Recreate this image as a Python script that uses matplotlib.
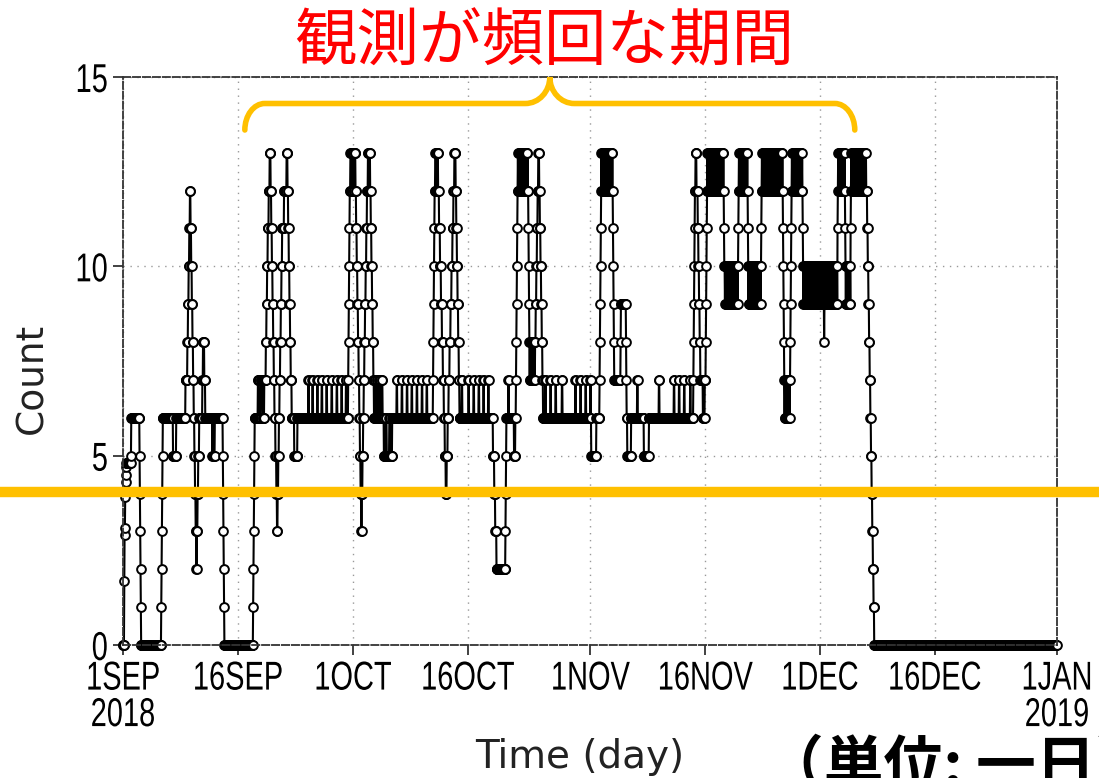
import numpy as np
import matplotlib
matplotlib.use("Agg")
from matplotlib import pyplot as plt
import matplotlib.dates as mdates
from matplotlib.path import Path
from matplotlib.patches import PathPatch
from matplotlib.patheffects import AbstractPathEffect
from matplotlib.transforms import Affine2D

# hourly observation counts, 1 Sep 2018 00:00 -> 31 Dec 2018 23:00
n_hours = 122 * 24
start = np.datetime64("2018-09-01T00:00")

# each window: (hour it starts, hourly values); "v*n" = v for n hours,
# "a~b*n" = n hours flipping between a and b. last value holds until next window
windows = [
    (0, "0"),
    (4, "1.7 2.9 3.1 3.9 4.3 4.5 4.7 4.8"),
    (25, "5 6"),
    (52, "5 4 3 2 1 0"),
    (120, "1 2 3 4 5 6"),
    (157, "5"),
    (167, "6"),
    (196, "7*6 8*2 9*2 10*2 11*2 12*2 11*2 10*2 9*2 8*2 7*2 6*2 5*2 4*2 3*2 2*2 "
          "3*2 4*2 5*3 6*10 7*2 8*4 7*3 6"),
    (280, "5*2 6*3 5*3 6"),
    (313, "5 4 3 2 1 0"),
    (408, "1 2 3 4 5 6*10 7*4 6*6 7*6 6*4 7*5 8*2 9*2 10*2 11*3 12*3 13*3 12*2 11*2 "
          "10*2 9*2 8*2 7*2 6*3 5*3 4*2 3*2 4*2 5*2 6*2 7*2 8*2 9*2 10*2 11*6 12*8 "
          "13*3 12*2 11*2 10*2 9*2 8*2 7*3 6*8 5*10 6"),
    (581, "7*2 6"), (594, "7*2 6"), (609, "7*2 6"), (623, "7*2 6"), (638, "7*2 6"),
    (654, "7*2 6"), (670, "7*2 6"), (685, "7*2 6"), (699, "7*2 6"),
    (706, "7 8 9 10 11 12*2 13*3 12*3 13*4 12*3 13*3 12*2 11*2 10*2 9*2 8*2 7*2 "
          "6*2 5*2 4*2 3*2 4*2 5*2 6*2 7*2 8*2 9*2 10*2 11*2 12*3 13*3 12*2 13*2 "
          "12*2 11*2 10*2 9*2 8*2 7*2 6"),
    (790, "7*2 6*4 7*2 6*5 7*3 6*6 7*2 6*4"),
    (818, "5*6 6*3 5*8 6*3 5*6 6"),
    (858, "7*2 6"), (874, "7*2 6"), (890, "7*2 6"), (905, "7*2 6"), (921, "7*2 6"),
    (937, "7*2 6"), (952, "7*2 6"),
    (972, "7 8 9 10 11 12*2 13*3 12*3 13*3 12*3 11*3 10*3 9*3 8*3 7*3 6*3 5*3 4*3 "
          "5*3 6*3 7*3 8*3 9*3 10*3 11*3 12*3 13*4 12*2 11*2 10*2 9*2 8*2 7*2 6"),
    (1062, "7*2 6"), (1083, "7*2 6"), (1099, "7*2 6"), (1115, "7*2 6"),
    (1130, "7*2 6"), (1145, "7*2 6"),
    (1160, "5*4 4*3 3*4 2*28 3 4 5 6*6 7*2 6*16 5*4 6*2"),
    (1232, "7 8 9 10 11 12 13~12*32 12 11 10 9 8~7*18 8*2 9*2 10*2 11*2 12*2 13*3 "
           "12*2 11*2 10*2 9*2 8*2 7*2 6"),
    (1324, "7*2 6"), (1340, "7*2 6"), (1356, "7*2 6"), (1376, "7*2 6"),
    (1418, "7*2 6"), (1434, "7*2 6"), (1450, "7*2 6"), (1465, "7*2 6"),
    (1468, "5*16 6"),
    (1494, "7 8 9 10 11 12 13~12*36 11 10 9 8 7*20 8 9*16 8 7 6*2 5*12 6"),
    (1612, "7*2 6"),
    (1633, "5*16 6"),
    (1680, "7*2 6"), (1727, "7*2 6"), (1743, "7*2 6"), (1759, "7*2 6"), (1778, "7*2 6"),
    (1788, "7 8 9 10 11 12*2 13*3 12*4 11*2 10*2 9*2 8*2 7*8 6*6 7*3 8 9 10 11 12 "
           "13~12*52 11 10"),
    (1886, "10~9*42"),
    (1928, "10 11 12 13~12*28 11 10"),
    (1961, "9~10*40"),
    (2001, "11 12 13~12*66 11 10 9 8 7~6*18 7 8 9 10 11 12 13~12*34 11 10"),
    (2133, "9~10*64"),
    (2197, "9 8 9"),
    (2200, "10~9*40"),
    (2240, "11 12 13~12*22 11"),
    (2265, "10~9*16"),
    (2281, "11 12 13~12*48"),
    (2331, "12*2 11*2 10*2 9*2 8*2 7*2 6*2 5*2 4*2 3*2 2*2 1*2 0"),
]

tick_dates = ["2018-09-01", "2018-09-16", "2018-10-01", "2018-10-16", "2018-11-01",
              "2018-11-16", "2018-12-01", "2018-12-16", "2019-01-01"]
tick_labels = ["1SEP\n2018", "16SEP", "1OCT", "16OCT", "1NOV", "16NOV", "1DEC",
               "16DEC", "1JAN\n2019"]
y_ticks = [0, 5, 10, 15]

threshold = 4.05
# period with frequent observations (brace ends)
busy_from = np.datetime64("2018-09-16T22:00")
busy_to = np.datetime64("2018-12-05T14:00")


def expand(windows, total):
    counts = np.zeros(total)
    bounds = [w[0] for w in windows] + [total]
    for (first, text), stop in zip(windows, bounds[1:]):
        vals = []
        for tok in text.split():
            val, _, n = tok.partition("*")
            n = int(n) if n else 1
            if "~" in val:
                a, b = (float(s) for s in val.split("~"))
                vals += [a if i % 2 == 0 else b for i in range(n)]
            else:
                vals += [float(val)] * n
        vals = vals[:stop - first]
        counts[first:first + len(vals)] = vals
        counts[first + len(vals):stop] = vals[-1]
    return counts


class Squeeze(AbstractPathEffect):
    """Narrow the glyphs horizontally, keeping the given edge of each line fixed."""

    def __init__(self, sx, anchor="center"):
        super().__init__()
        self.sx = sx
        self.anchor = anchor

    def draw_path(self, renderer, gc, tpath, affine, rgbFace=None):
        ext = tpath.get_extents()
        cx = ext.x1 if self.anchor == "right" else (ext.x0 + ext.x1) / 2
        squeeze = Affine2D().translate(-cx, 0).scale(self.sx, 1).translate(cx, 0)
        renderer.draw_path(gc, tpath, squeeze + affine, rgbFace)


counts = expand(windows, n_hours)
times = start + np.arange(n_hours).astype("timedelta64[h]")

cjk = ["Noto Sans CJK JP", "DejaVu Sans"]

fig = plt.figure(figsize=(10.99, 7.78), dpi=100)
ax = fig.add_axes([0.1119, 0.17095, 0.8499, 0.73008])

ax.plot(times, counts, "-o", color="black", lw=1.5, ms=6.3, mew=1.4,
        mfc="white", mec="black", clip_on=False, zorder=2)

ax.set_xlim(np.datetime64("2018-09-01"), np.datetime64("2019-01-01"))
ax.set_ylim(0, 15)
ax.set_xticks([np.datetime64(d) for d in tick_dates])
ax.set_xticklabels(tick_labels)
ax.set_yticks(y_ticks)
for lab in ax.get_xticklabels():
    lab.set_fontfamily("Liberation Sans")
    lab.set_fontsize(29)
    lab.set_linespacing(0.95)
    lab.set_path_effects([Squeeze(0.72)])
for lab in ax.get_yticklabels():
    lab.set_fontfamily("Liberation Sans")
    lab.set_fontsize(29)
    lab.set_path_effects([Squeeze(0.72, "right")])
ax.tick_params(direction="out", length=7.5, width=1.3, color="#333333", pad=3)

ax.grid(True, linestyle=(0, (1, 4)), color="#999999", lw=1.0)
ax.set_axisbelow(True)
for sp in ax.spines.values():
    sp.set_linestyle((0, (4, 1.5)))
    sp.set_color("#333333")
    sp.set_linewidth(1.3)

fig.text(32 / 1099, 1 - 378 / 778, "Count", rotation=90, fontsize=27,
         ha="center", va="center", color="#222222")
fig.text(580 / 1099, 1 - 757 / 778, "Time (day)", fontsize=28,
         ha="center", va="center", color="#222222")

# threshold line across the whole figure
ax.axhline(threshold, xmin=-0.14, xmax=1.05, color="#ffc000", lw=7.5,
           clip_on=False, zorder=5)

# brace over the busy period
x0 = mdates.date2num(busy_from)
x1 = mdates.date2num(busy_to)
xm = (x0 + x1) / 2
r, c, k = 2.6, 3.2, 0.552
y_tip, y_bar, y_top = 13.6, 14.3, 15.0
h = y_bar - y_tip
verts = [
    (x0, y_tip), (x0, y_tip + h * k), (x0 + r * (1 - k), y_bar), (x0 + r, y_bar),
    (xm - c, y_bar),
    (xm - c * (1 - k), y_bar), (xm, y_top - h * k), (xm, y_top),
    (xm, y_top - h * k), (xm + c * (1 - k), y_bar), (xm + c, y_bar),
    (x1 - r, y_bar),
    (x1 - r * (1 - k), y_bar), (x1, y_tip + h * k), (x1, y_tip),
]
codes = [Path.MOVETO, Path.CURVE4, Path.CURVE4, Path.CURVE4, Path.LINETO,
         Path.CURVE4, Path.CURVE4, Path.CURVE4, Path.CURVE4, Path.CURVE4,
         Path.CURVE4, Path.LINETO, Path.CURVE4, Path.CURVE4, Path.CURVE4]
ax.add_patch(PathPatch(Path(verts, codes), fill=False, ec="#ffc000", lw=4.0,
                       capstyle="round", clip_on=False, zorder=5))

fig.text(544 / 1099, 1 - 42 / 778, "観測が頻回な期間", color="#ff0000",
         fontsize=45, family=cjk, ha="center", va="center")
fig.text(764 / 1099, 1 - 785 / 778, "（単位: 一日）", color="black",
         fontsize=43, weight="bold", family=cjk, ha="left", va="baseline")

fig.savefig("out.png", dpi=100)
